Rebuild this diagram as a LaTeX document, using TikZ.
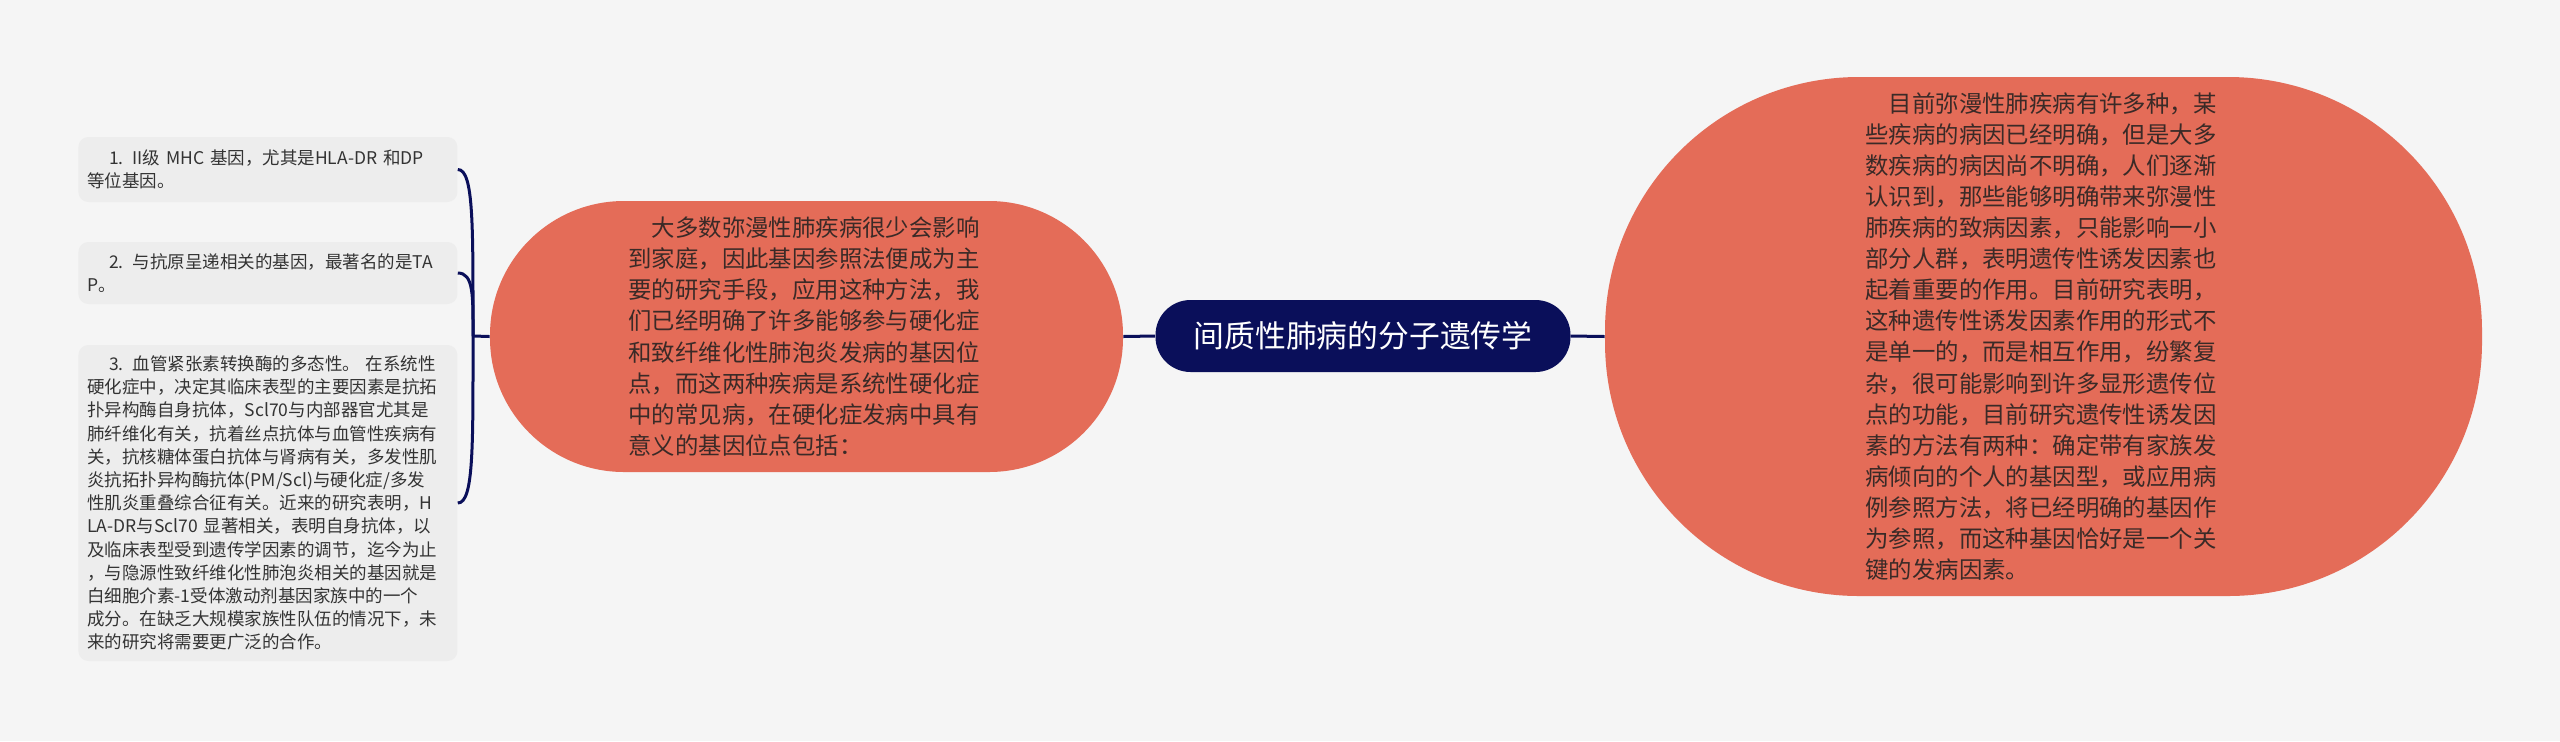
\documentclass[tikz,border=0pt]{standalone}
\usepackage{fontspec}
\setmainfont{Noto Sans CJK SC}
\definecolor{bgc}{HTML}{F5F5F5}
\definecolor{leafbg}{HTML}{EDEDED}
\definecolor{leafink}{HTML}{333333}
\definecolor{navy}{HTML}{0A0F5A}
\definecolor{coral}{HTML}{E46C58}
\definecolor{ink}{HTML}{3A2A27}
\begin{document}
\begin{tikzpicture}[x=0.5pt,y=-0.5pt,
  titlebox/.style={fill=navy, text=white, rounded corners=17.5pt, minimum width=207.5pt, minimum height=36pt, inner sep=0pt, font=\fontsize{15.4}{18}\selectfont},
  bigbox/.style={fill=coral, text=ink, text width=178pt, align=left, inner sep=0pt, font=\fontsize{11.7}{15.55}\selectfont},
  leafbox/.style={fill=leafbg, text=leafink, rounded corners=5pt, text width=180.5pt, inner xsep=4.5pt, inner ysep=0pt, anchor=west, align=left, font=\fontsize{8.75}{11.6}\selectfont},
  link/.style={draw=navy, line width=1.5pt}]
\useasboundingbox (0,0) rectangle (2560,741);
\fill[bgc] (0,0) rectangle (2560,741);

\node[titlebox] (title) at (1363,336) {间质性肺病的分子遗传学};

\node[bigbox, rounded corners=67pt, minimum width=316.5pt, minimum height=135.5pt] (mid) at (806.5,336.5) {\hspace*{1em}大多数弥漫性肺疾病很少会影响\\到家庭，因此基因参照法便成为主\\要的研究手段，应用这种方法，我\\们已经明确了许多能够参与硬化症\\和致纤维化性肺泡炎发病的基因位\\点，而这两种疾病是系统性硬化症\\中的常见病，在硬化症发病中具有\\意义的基因位点包括：};

\node[bigbox, rounded corners=127pt, minimum width=438.5pt, minimum height=259.5pt] (right) at (2043.5,336.5) {\hspace*{1em}目前弥漫性肺疾病有许多种，某\\些疾病的病因已经明确，但是大多\\数疾病的病因尚不明确，人们逐渐\\认识到，那些能够明确带来弥漫性\\肺疾病的致病因素，只能影响一小\\部分人群，表明遗传性诱发因素也\\起着重要的作用。目前研究表明，\\这种遗传性诱发因素作用的形式不\\是单一的，而是相互作用，纷繁复\\杂，很可能影响到许多显形遗传位\\点的功能，目前研究遗传性诱发因\\素的方法有两种：确定带有家族发\\病倾向的个人的基因型，或应用病\\例参照方法，将已经明确的基因作\\为参照，而这种基因恰好是一个关\\键的发病因素。};

\node[leafbox, minimum height=32.5pt] (l1) at (78,169.5) {\hspace*{1.25em}1. II级 MHC 基因，尤其是HLA-DR 和DP\\等位基因。};
\node[leafbox, minimum height=31pt] (l2) at (78,273) {\hspace*{1.25em}2. 与抗原呈递相关的基因，最著名的是TA\\P。};
\node[leafbox, minimum height=158pt] (l3) at (78,503) {\hspace*{1.25em}3. 血管紧张素转换酶的多态性。 在系统性\\硬化症中，决定其临床表型的主要因素是抗拓\\扑异构酶自身抗体，Scl70与内部器官尤其是\\肺纤维化有关，抗着丝点抗体与血管性疾病有\\关，抗核糖体蛋白抗体与肾病有关，多发性肌\\炎抗拓扑异构酶抗体(PM/Scl)与硬化症/多发\\性肌炎重叠综合征有关。近来的研究表明，H\\LA-DR与Scl70 显著相关，表明自身抗体，以\\及临床表型受到遗传学因素的调节，迄今为止\\，与隐源性致纤维化性肺泡炎相关的基因就是\\白细胞介素-1受体激动剂基因家族中的一个\\成分。在缺乏大规模家族性队伍的情况下，未\\来的研究将需要更广泛的合作。};

\coordinate (j) at (473,336);
\draw[link] (mid.east) -- (title.west);
\draw[link] (title.east) -- (right.west);
\draw[link] (j) -- (mid.west);
\draw[link] (l1.east) .. controls +(16,0) and +(0,-110) .. (j);
\draw[link] (l2.east) .. controls +(16,0) and +(0,-40) .. (j);
\draw[link] (l3.east) .. controls +(16,0) and +(0,110) .. (j);
\end{tikzpicture}
\end{document}
